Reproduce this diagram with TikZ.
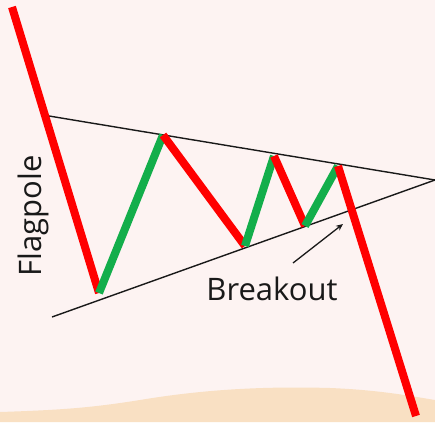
\documentclass[tikz,border=0pt]{standalone}
\usepackage{fontspec}
\setmainfont{Open Sans}
\usetikzlibrary{arrows.meta}
\definecolor{bgpink}{HTML}{FDF3F2}
\definecolor{sand}{HTML}{F9E0C3}
\definecolor{barred}{HTML}{FF0000}
\definecolor{bargreen}{HTML}{13AE4B}
\tikzset{
  trend/.style={line width=1.4pt, black!90},
  downbar/.style={line width=8pt, barred},
  upbar/.style={line width=8pt, bargreen},
  lbl/.style={font=\fontsize{31}{36}\selectfont, text=black!90, inner sep=0pt},
}
\begin{document}
\begin{tikzpicture}[x=1pt,y=-1pt]
\useasboundingbox (0,0) rectangle (435,422);
\fill[bgpink] (0,0) rectangle (435,422);
\fill[sand] (0,412) .. controls (60,410) and (90,408) .. (140,400)
  .. controls (200,390) and (260,386) .. (330,388)
  .. controls (380,390) and (410,396) .. (435,400) -- (435,422) -- (0,422) -- cycle;
% points
\coordinate (top) at (12,7);
\coordinate (b1) at (99,293);
\coordinate (p1) at (163,135);
\coordinate (b2) at (245,246);
\coordinate (p2) at (274,156);
\coordinate (b3) at (305,226);
\coordinate (p3) at (338,166);
\coordinate (end) at (416,416);
\coordinate (ul) at (49,116);
\coordinate (apex) at (435,180);
\coordinate (ll) at (52,317);
\coordinate (as) at (293,263);
\coordinate (ae) at (343,224);
% trend lines
\draw[trend] (ul) -- (apex);
\draw[trend] (ll) -- (apex);
% bars
\draw[downbar] (top) -- (b1);
\draw[upbar] (b1) -- (p1);
\draw[downbar] (p1) -- (b2);
\draw[upbar] (b2) -- (p2);
\draw[downbar] (p2) -- (b3);
\draw[upbar] (b3) -- (p3);
\draw[downbar] (p3) -- (end);
% labels
\node[lbl, rotate=90] (flag) at (33,216) {Flagpole};
\node[lbl] (brk) at (272,289) {Breakout};
\draw[line width=1.3pt, black!90, -{Stealth[length=7pt,width=6pt]}] (as) -- (ae);
\end{tikzpicture}
\end{document}
